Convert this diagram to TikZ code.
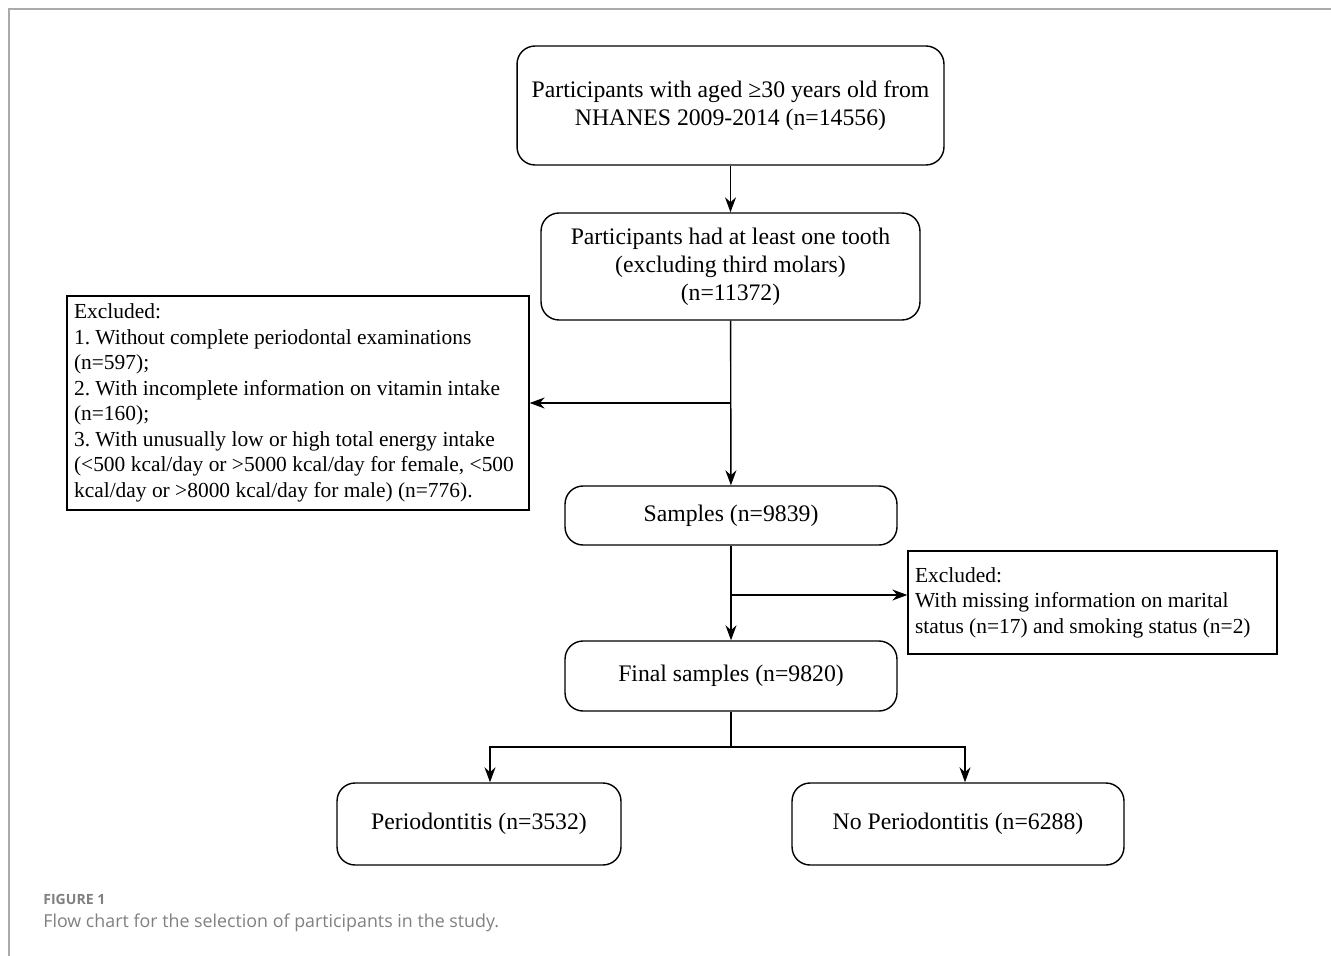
\documentclass[tikz,border=0pt]{standalone}
\usepackage{fontspec}
\setmainfont{Liberation Serif}
\newfontfamily\capfont{Open Sans}
\usetikzlibrary{arrows.meta}
\frenchspacing

\definecolor{framegray}{HTML}{AAAAAA}
\definecolor{capgray}{HTML}{808080}

\tikzset{
  stagebox/.style={draw, rounded corners=0.36cm, line width=0.8pt, align=center,
    inner sep=0pt, font=\fontsize{13.5}{15.9}\selectfont},
  notebox/.style={draw, line width=0.8pt, align=flush left, inner sep=0.14cm,
    font=\fontsize{12.2}{14.5}\selectfont},
  flow/.style={-{Stealth[length=0.3cm,width=0.22cm]}, line width=0.8pt},
  link/.style={line width=0.8pt}
}

\begin{document}
\begin{tikzpicture}[x=0.02cm,y=-0.02cm]

\useasboundingbox (0,0) rectangle (1331,956);

% Rahmen
\draw[framegray, line width=1.2pt] (1331,9) -- (9,9) -- (9,956);

% Etapes
\node[stagebox, minimum width=8.54cm, minimum height=2.38cm] (start) at (730.5,105.5)
{Participants with aged ≥30 years old from\\NHANES 2009-2014 (n=14556)};

\node[stagebox, minimum width=7.58cm, minimum height=2.14cm] (tooth) at (730.5,266.5)
{Participants had at least one tooth\\(excluding third molars)\\(n=11372)};

\node[stagebox, minimum width=6.64cm, minimum height=1.18cm] (samples) at (731,515.5)
{Samples (n=9839)};

\node[stagebox, minimum width=6.64cm, minimum height=1.4cm] (final) at (731,676)
{Final samples (n=9820)};

\node[stagebox, minimum width=5.68cm, minimum height=1.64cm] (perio) at (479,824)
{Periodontitis (n=3532)};

\node[stagebox, minimum width=6.64cm, minimum height=1.64cm] (noperio) at (958,824)
{No Periodontitis (n=6288)};

% Exclusions
\node[notebox, text width=8.96cm, minimum height=4.28cm] (excl1) at (298,403)
{Excluded:\\
1. Without complete periodontal examinations\\
(n=597);\\
2. With incomplete information on vitamin intake\\
(n=160);\\
3. With unusually low or high total energy intake\\
(<500 kcal/day or >5000 kcal/day for female, <500\\
kcal/day or >8000 kcal/day for male) (n=776).};

\node[notebox, text width=7.1cm, minimum height=2.06cm] (excl2) at (1092.5,602.5)
{Excluded:\\
With missing information on marital\\
status (n=17) and smoking status (n=2)};

% Pfeile
\coordinate (split1) at (731,403);
\coordinate (split2) at (731,595);
\coordinate (fork) at (731,747);

\draw[flow] (start) -- (tooth);
\draw[flow] (tooth) -- (samples);
\draw[flow] (split1) -- (split1 -| excl1.east);
\draw[flow] (samples) -- (final);
\draw[flow] (split2) -- (split2 -| excl2.west);

\draw[link] (final.south) -- (fork);
\draw[flow] (fork) -| ([xshift=0.22cm]perio.north);
\draw[flow] (fork) -| ([xshift=0.14cm]noperio.north);

% Legende
\node[anchor=base west, inner sep=0pt, text=capgray, font=\capfont\bfseries\fontsize{8}{9}\selectfont]
  (figlabel) at (43,904) {FIGURE 1};
\node[anchor=base west, inner sep=0pt, text=capgray, font=\capfont\fontsize{10.15}{12}\selectfont]
  (figcap) at (43,927) {Flow chart for the selection of participants in the study.};

\end{tikzpicture}
\end{document}
